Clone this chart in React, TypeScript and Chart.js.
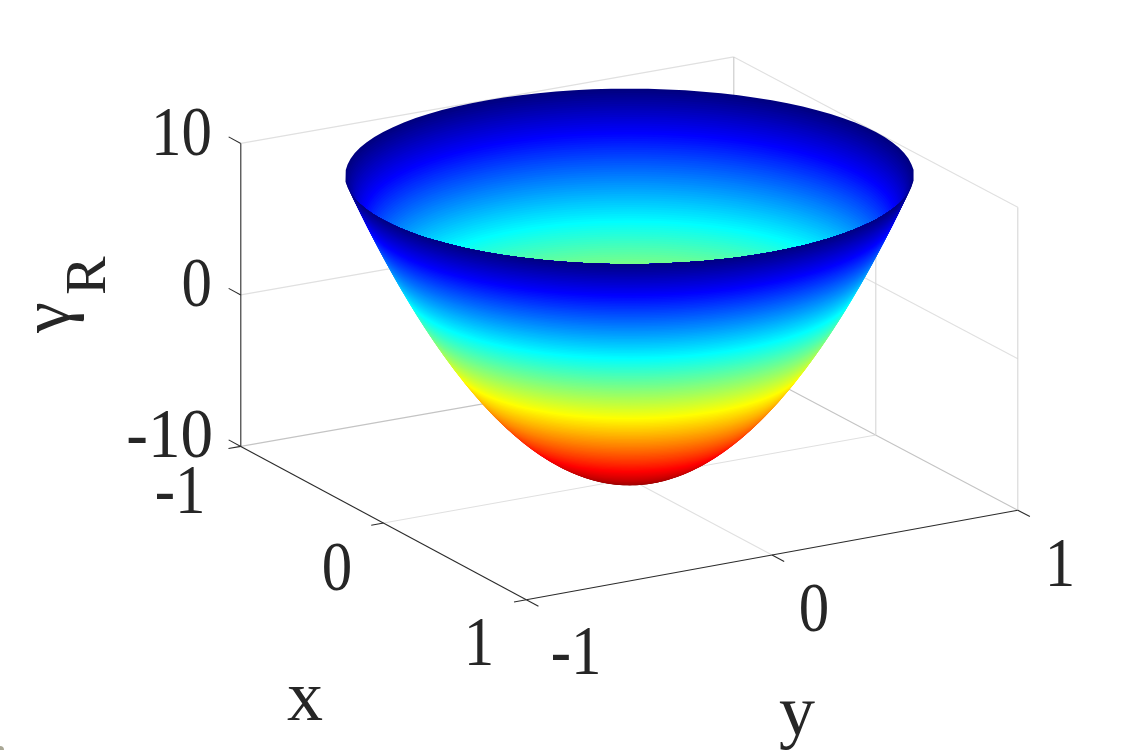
import React, { useEffect, useRef } from "react";
import { Chart, registerables } from "chart.js";

// ---------- data ----------
const xTicks = [-1, 0, 1];
const yTicks = [-1, 0, 1];
const zTicks = [-10, 0, 10];
const xTickLabels = ["-1", "0", "1"];
const yTickLabels = ["-1", "0", "1"];
const zTickLabels = ["-10", "0", "10"];

// Height of each ring of the bowl (gamma_R)
const gammaLevels = [
  -10, -9.875, -9.75, -9.625, -9.5, -9.375, -9.25, -9.125, -9, -8.875, -8.75, -8.625, -8.5, -8.375, -8.25, -8.125,
  -8, -7.875, -7.75, -7.625, -7.5, -7.375, -7.25, -7.125, -7, -6.875, -6.75, -6.625, -6.5, -6.375, -6.25, -6.125,
  -6, -5.875, -5.75, -5.625, -5.5, -5.375, -5.25, -5.125, -5, -4.875, -4.75, -4.625, -4.5, -4.375, -4.25, -4.125,
  -4, -3.875, -3.75, -3.625, -3.5, -3.375, -3.25, -3.125, -3, -2.875, -2.75, -2.625, -2.5, -2.375, -2.25, -2.125,
  -2, -1.875, -1.75, -1.625, -1.5, -1.375, -1.25, -1.125, -1, -0.875, -0.75, -0.625, -0.5, -0.375, -0.25, -0.125,
  0, 0.125, 0.25, 0.375, 0.5, 0.625, 0.75, 0.875, 1, 1.125, 1.25, 1.375, 1.5, 1.625, 1.75, 1.875,
  2, 2.125, 2.25, 2.375, 2.5, 2.625, 2.75, 2.875, 3, 3.125, 3.25, 3.375, 3.5, 3.625, 3.75, 3.875,
  4, 4.125, 4.25, 4.375, 4.5, 4.625, 4.75, 4.875, 5, 5.125, 5.25, 5.375, 5.5, 5.625, 5.75, 5.875,
  6, 6.125, 6.25, 6.375, 6.5, 6.625, 6.75, 6.875, 7, 7.125, 7.25, 7.375, 7.5, 7.625, 7.75, 7.875,
  8, 8.125, 8.25, 8.375, 8.5, 8.625, 8.75, 8.875, 9, 9.125, 9.25, 9.375, 9.5, 9.625, 9.75, 9.875, 10,
];
// Radius of the bowl at each of those heights
const ringRadii = [
  0, 0.0791, 0.1118, 0.1369, 0.1581, 0.1768, 0.1936, 0.2092, 0.2236, 0.2372, 0.25, 0.2622, 0.2739, 0.285, 0.2958, 0.3062,
  0.3162, 0.326, 0.3354, 0.3446, 0.3536, 0.3623, 0.3708, 0.3791, 0.3873, 0.3953, 0.4031, 0.4108, 0.4183, 0.4257, 0.433, 0.4402,
  0.4472, 0.4541, 0.461, 0.4677, 0.4743, 0.4809, 0.4873, 0.4937, 0.5, 0.5062, 0.5123, 0.5184, 0.5244, 0.5303, 0.5362, 0.542,
  0.5477, 0.5534, 0.559, 0.5646, 0.5701, 0.5755, 0.5809, 0.5863, 0.5916, 0.5969, 0.6021, 0.6072, 0.6124, 0.6175, 0.6225, 0.6275,
  0.6325, 0.6374, 0.6423, 0.6471, 0.6519, 0.6567, 0.6614, 0.6661, 0.6708, 0.6755, 0.6801, 0.6847, 0.6892, 0.6937, 0.6982, 0.7027,
  0.7071, 0.7115, 0.7159, 0.7202, 0.7246, 0.7289, 0.7331, 0.7374, 0.7416, 0.7458, 0.75, 0.7542, 0.7583, 0.7624, 0.7665, 0.7706,
  0.7746, 0.7786, 0.7826, 0.7866, 0.7906, 0.7945, 0.7984, 0.8023, 0.8062, 0.8101, 0.8139, 0.8178, 0.8216, 0.8254, 0.8292, 0.8329,
  0.8367, 0.8404, 0.8441, 0.8478, 0.8515, 0.8551, 0.8587, 0.8624, 0.866, 0.8696, 0.8732, 0.8768, 0.8803, 0.8839, 0.8874, 0.8909,
  0.8944, 0.8979, 0.9014, 0.9048, 0.9083, 0.9117, 0.9152, 0.9186, 0.922, 0.9253, 0.9287, 0.9321, 0.9354, 0.9387, 0.9421, 0.9454,
  0.9487, 0.952, 0.9552, 0.9585, 0.9618, 0.965, 0.9682, 0.9715, 0.9747, 0.9779, 0.9811, 0.9843, 0.9874, 0.9906, 0.9937, 0.9969, 1,
];
// Colour stops of the map (position from top of the bowl, r, g, b)
const colorStops = [
  [0, 0, 0, 128],
  [0.125, 0, 0, 255],
  [0.375, 0, 255, 255],
  [0.625, 255, 255, 0],
  [0.875, 255, 0, 0],
  [1, 128, 0, 0],
];

// ---------- view of the 3D box ----------
const VIEW = { cx: 629.3, cy: 478.3, xx: 142.75, xy: 76.65, yx: 245.75, yy: -44.75, zy: 15.15, backX: 1.5, backY: 3 };
const project = (x: number, y: number, z: number) => {
  // the far corner of the box sits slightly nearer the centre than a pure parallel view puts it
  const far = ((1 - x) * (1 + y)) / 4;
  return {
    x: VIEW.cx + VIEW.xx * x + VIEW.yx * y + VIEW.backX * far,
    y: VIEW.cy + VIEW.xy * x + VIEW.yy * y - VIEW.zy * (z + 10) + VIEW.backY * far,
  };
};

const colorAt = (g: number) => {
  const t = (10 - g) / 20;
  for (let i = 1; i < colorStops.length; i++) {
    const a = colorStops[i - 1];
    const b = colorStops[i];
    if (t <= b[0]) {
      const f = (t - a[0]) / (b[0] - a[0]);
      return `rgb(${Math.round(a[1] + (b[1] - a[1]) * f)},${Math.round(a[2] + (b[2] - a[2]) * f)},${Math.round(
        a[3] + (b[3] - a[3]) * f
      )})`;
    }
  }
  return "rgb(128,0,0)";
};

const SEGMENTS = 96;
const ring = (r: number, g: number) => {
  const pts = [];
  for (let i = 0; i <= SEGMENTS; i++) {
    const a = (i % SEGMENTS) * ((2 * Math.PI) / SEGMENTS);
    pts.push(project(r * Math.cos(a), r * Math.sin(a), g));
  }
  return pts;
};

const GRID = "#e0e0e0";
const GRID_EDGE = "#c4c4c4";
const AXIS = "#2b2b2b";
const TEXT = "#262626";
const FONT = "'Liberation Serif'";

const lineSet = (from: number[], to: number[], color: string) => ({
  data: [project(from[0], from[1], from[2]), project(to[0], to[1], to[2])],
  showLine: true,
  borderColor: color,
  borderWidth: 1.1,
  pointRadius: 0,
  fill: false,
  tension: 0,
});

const buildDatasets = () => {
  const sets: any[] = [];
  const [zMin, , zMax] = zTicks;
  // walls and floor
  zTicks.forEach((z) => {
    const c = z === zMin ? GRID_EDGE : GRID;
    sets.push(lineSet([-1, -1, z], [-1, 1, z], c));
    sets.push(lineSet([-1, 1, z], [1, 1, z], c));
  });
  yTicks.slice(1).forEach((y) => sets.push(lineSet([-1, y, zMin], [-1, y, zMax], y === 1 ? "#c8c8c8" : GRID)));
  xTicks.slice(1).forEach((x) => sets.push(lineSet([x, 1, zMin], [x, 1, zMax], "#d6d6d6")));
  xTicks.slice(1, 2).forEach((x) => sets.push(lineSet([x, -1, zMin], [x, 1, zMin], GRID)));
  yTicks.slice(1, 2).forEach((y) => sets.push(lineSet([-1, y, zMin], [1, y, zMin], GRID)));

  // axes and ticks
  sets.push(lineSet([-1, -1, zMin], [-1, -1, zMax], AXIS));
  sets.push(lineSet([-1, -1, zMin], [1, -1, zMin], AXIS));
  sets.push(lineSet([1, -1, zMin], [1, 1, zMin], AXIS));
  zTicks.forEach((z) => sets.push(lineSet([-1, -1, z], [-1.085, -1, z], AXIS)));
  xTicks.forEach((x) => sets.push(lineSet([x, -1, zMin], [x, -1.05, zMin], AXIS)));
  yTicks.forEach((y) => sets.push(lineSet([1, y, zMin], [1.085, y, zMin], AXIS)));

  // bowl: inner wall, from the top ring down
  const last = gammaLevels.length - 1;
  for (let i = last; i >= 0; i--) {
    sets.push({
      data: ring(ringRadii[i], gammaLevels[i]),
      showLine: true,
      borderWidth: 0,
      pointRadius: 0,
      tension: 0,
      fill: "shape",
      backgroundColor: colorAt(gammaLevels[i]),
      rimClip: i === last ? "rim" : "inside",
    });
  }
  // bowl: outer wall, from the bottom ring up
  for (let i = 0; i < last; i++) {
    sets.push({
      data: ring(ringRadii[i], gammaLevels[i]),
      showLine: true,
      borderWidth: 0,
      pointRadius: 0,
      tension: 0,
      fill: "shape",
      backgroundColor: colorAt(gammaLevels[i]),
      rimClip: "outside",
    });
  }
  // small smudge in the picture's lower left corner
  sets.push({ data: [{ x: 0, y: 750 }], showLine: false, pointRadius: 4, backgroundColor: "#a9a795", borderWidth: 0 });
  const n = sets.length;
  sets.forEach((s, i) => (s.order = n - i));
  return sets;
};

// Restricts inner and outer wall rings to their side of the top ring. Registered before the
// Filler plugin so that the clip is in place when the fill is painted.
const rimClipPlugin = {
  id: "rimClip",
  beforeDatasetDraw(chart: any, args: any) {
    const ds = chart.data.datasets[args.index];
    if (ds.rimClip !== "inside" && ds.rimClip !== "outside") return;
    const rimIndex = chart.data.datasets.findIndex((d: any) => d.rimClip === "rim");
    const pts = chart.getDatasetMeta(rimIndex).data;
    const ctx = chart.ctx;
    ctx.save();
    ctx.beginPath();
    pts.forEach((p: any, i: number) => (i ? ctx.lineTo(p.x, p.y) : ctx.moveTo(p.x, p.y)));
    ctx.closePath();
    if (ds.rimClip === "outside") {
      ctx.rect(0, 0, chart.width, chart.height);
      ctx.clip("evenodd");
    } else {
      ctx.clip();
    }
  },
  afterDatasetDraw(chart: any, args: any) {
    const ds = chart.data.datasets[args.index];
    if (ds.rimClip === "inside" || ds.rimClip === "outside") chart.ctx.restore();
  },
};

const TICK_FONT = 70;
const tickPlacement = [
  { labels: zTickLabels, at: [[213, 457], [212, 306], [212, 155]], align: "right" },
  { labels: xTickLabels, at: [[180, 513], [337, 590], [479, 665]], align: "center" },
  { labels: yTickLabels, at: [[576, 674], [814, 631], [1060, 586]], align: "center" },
];

const textPlugin = {
  id: "axisText",
  afterDatasetsDraw(chart: any) {
    const { ctx, scales } = chart;
    const px = (v: number) => scales.x.getPixelForValue(v);
    const py = (v: number) => scales.y.getPixelForValue(v);
    ctx.save();
    ctx.fillStyle = TEXT;
    ctx.textBaseline = "alphabetic";
    ctx.font = `${TICK_FONT}px ${FONT}`;
    tickPlacement.forEach(({ labels, at, align }) => {
      ctx.textAlign = align;
      labels.forEach((t, i) => {
        ctx.save();
        ctx.translate(px(at[i][0]), py(at[i][1]));
        ctx.scale(t === "-10" ? 0.93 : 0.87, 1);
        ctx.fillText(t, 0, 0);
        ctx.restore();
      });
    });
    ctx.textAlign = "center";
    ctx.font = `72px ${FONT}`;
    ctx.fillText("x", px(305), py(720));
    ctx.fillText("y", px(797), py(735));
    ctx.textAlign = "left";
    ctx.save();
    ctx.translate(px(69), py(333));
    ctx.rotate(-Math.PI / 2);
    ctx.font = `70px ${FONT}`;
    ctx.fillText("γ", 0, 0);
    ctx.restore();
    ctx.save();
    ctx.translate(px(105), py(295));
    ctx.rotate(-Math.PI / 2);
    ctx.font = `58px ${FONT}`;
    ctx.fillText("R", 0, 0);
    ctx.restore();
    ctx.restore();
  },
};

Chart.register(rimClipPlugin, ...registerables);

export default function App() {
  const ref = useRef<HTMLCanvasElement>(null);
  useEffect(() => {
    const chart = new Chart(ref.current as HTMLCanvasElement, {
      type: "scatter",
      data: { datasets: buildDatasets() },
      options: {
        animation: false,
        responsive: false,
        events: [],
        normalized: true,
        layout: { padding: 0, autoPadding: false },
        plugins: { legend: { display: false }, tooltip: { enabled: false } },
        scales: {
          x: { type: "linear", min: 0, max: 1125, display: false },
          y: { type: "linear", min: 0, max: 750, reverse: true, display: false },
        },
      },
      plugins: [textPlugin],
    } as any);
    return () => chart.destroy();
  }, []);
  return (
    <canvas
      ref={ref}
      width={1125}
      height={750}
      style={{ position: "absolute", left: 0, top: 0, width: 1125, height: 750, background: "#fff" }}
    />
  );
}
